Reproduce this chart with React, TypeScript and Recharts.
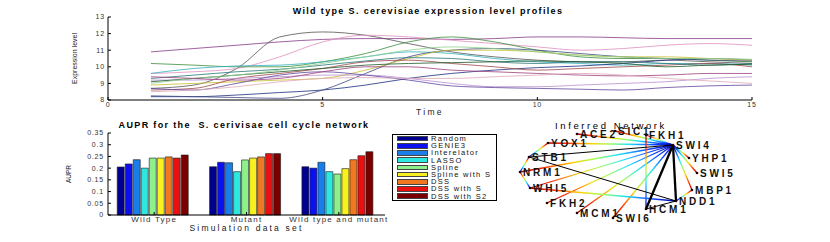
import {
  LineChart,
  Line,
  BarChart,
  Bar,
  ScatterChart,
  Scatter,
  XAxis,
  YAxis,
  Legend,
  ReferenceLine,
} from 'recharts'

const FONT = '"Liberation Sans", Arial, sans-serif'

// ---- expression profiles (time points 1..15) ----
const TIME = [1, 2, 3, 4, 5, 6, 7, 8, 9, 10, 11, 12, 13, 14, 15]
const SWI4 = [10.9, 11.1, 11.3, 11.5, 11.65, 11.7, 11.7, 11.65, 11.7, 11.8, 11.8, 11.75, 11.7, 11.7, 11.7]
const FKH1 = [8.7, 8.9, 9.9, 11.8, 12.1, 11.9, 11.4, 10.9, 10.6, 10.4, 10.3, 10.3, 10.4, 10.3, 10.2]
const NDD1 = [9.6, 9.7, 9.9, 10.6, 11.5, 11.9, 11.8, 11.6, 11.4, 11.2, 11.0, 11.1, 11.3, 11.4, 11.3]
const HCM1 = [10.2, 10.1, 10.0, 10.0, 10.3, 10.8, 11.5, 11.8, 11.5, 11.0, 10.6, 10.5, 10.5, 10.4, 10.3]
const MCM1 = [9.6, 9.9, 10.05, 10.1, 10.3, 10.6, 10.9, 10.8, 10.5, 10.3, 10.2, 10.1, 10.2, 10.2, 10.1]
const YOX1 = [8.2, 8.2, 8.3, 8.45, 8.6, 8.9, 9.3, 9.6, 9.8, 9.95, 10.05, 10.2, 10.4, 10.5, 10.4]
const SWI5 = [8.25, 8.2, 8.15, 8.1, 8.6, 9.6, 10.6, 11.0, 11.1, 11.0, 10.8, 10.6, 10.5, 10.4, 10.35]
const ACE2 = [8.9, 9.0, 9.1, 9.2, 9.3, 9.8, 10.5, 11.0, 11.0, 10.9, 10.7, 10.6, 10.6, 10.5, 10.4]
const FKH2 = [8.6, 8.7, 9.3, 9.6, 9.9, 10.3, 10.4, 10.2, 10.0, 9.8, 9.9, 10.0, 10.1, 10.2, 10.0]
const MBP1 = [9.2, 9.2, 9.3, 9.4, 9.5, 9.5, 9.3, 9.0, 8.8, 8.8, 8.9, 9.0, 9.1, 9.3, 9.4]
const SWI6 = [8.7, 8.6, 9.0, 9.5, 9.7, 9.5, 9.2, 8.85, 8.75, 8.7, 8.65, 8.6, 8.75, 8.85, 8.9]
const YHP1 = [9.3, 9.5, 9.7, 9.85, 10.1, 10.35, 10.55, 10.5, 10.3, 10.2, 10.3, 10.3, 10.2, 10.1, 10.2]
const WHI5 = [9.1, 9.3, 9.5, 9.7, 9.9, 10.1, 10.2, 10.25, 10.3, 10.35, 10.3, 10.2, 10.0, 10.1, 10.15]
const SIC1 = [9.0, 9.3, 9.5, 9.8, 10.2, 10.6, 11.0, 11.2, 11.1, 10.9, 10.7, 10.6, 10.5, 10.5, 10.45]
const NRM1 = [9.4, 9.3, 9.2, 9.3, 9.7, 10.0, 10.0, 9.8, 9.7, 9.6, 9.5, 9.45, 9.5, 9.6, 9.6]
const STB1 = [8.5, 8.6, 8.8, 9.1, 9.3, 9.35, 9.3, 9.3, 9.4, 9.5, 9.6, 9.5, 9.3, 9.15, 9.0]

const PROFILE_NAMES = ['SWI4', 'FKH1', 'NDD1', 'HCM1', 'MCM1', 'YOX1', 'SWI5', 'ACE2', 'FKH2', 'MBP1', 'SWI6', 'YHP1', 'WHI5', 'SIC1', 'NRM1', 'STB1']
const PROFILE_VALUES = [SWI4, FKH1, NDD1, HCM1, MCM1, YOX1, SWI5, ACE2, FKH2, MBP1, SWI6, YHP1, WHI5, SIC1, NRM1, STB1]
const PROFILE_COLORS = ['#8a3d8a', '#555555', '#e090c0', '#3d8f3d', '#35b0c0', '#1e2f80', '#404a80', '#c8c030', '#a04848', '#b890d0', '#6048a0', '#2a7878', '#1f5a2a', '#8fd08f', '#a04080', '#e0a8b8']
const TIME_TICKS = [0, 5, 10, 15]
const LEVEL_TICKS = [8, 9, 10, 11, 12, 13]

const profileRows = TIME.map((t, i) => {
  const row: Record<string, number> = { t }
  PROFILE_NAMES.forEach((n, k) => (row[n] = PROFILE_VALUES[k][i]))
  return row
})

// ---- AUPR bars ----
const DATA_SETS = ['Wild Type', 'Mutant', 'Wild type and mutant']
const METHODS = ['Random', 'GENIE3', 'Interelator', 'LASSO', 'Spline', 'Spline with S', 'DSS', 'DSS with S', 'DSS with S2']
const METHOD_COLORS = ['#000090', '#0a10ee', '#1a7ee8', '#2ee8e0', '#8ef08a', '#f8f020', '#f07820', '#e81010', '#7a0000']
const random = [0.205, 0.206, 0.206]
const genie3 = [0.218, 0.225, 0.2]
const interelator = [0.236, 0.223, 0.225]
const lasso = [0.2, 0.185, 0.185]
const spline = [0.243, 0.235, 0.175]
const splineS = [0.243, 0.243, 0.198]
const dss = [0.248, 0.248, 0.236]
const dssS = [0.243, 0.262, 0.253]
const dssS2 = [0.256, 0.262, 0.27]
const METHOD_VALUES = [random, genie3, interelator, lasso, spline, splineS, dss, dssS, dssS2]
const AUPR_TICKS = [0, 0.05, 0.1, 0.15, 0.2, 0.25, 0.3, 0.35]

const auprRows = DATA_SETS.map((set, i) => {
  const row: Record<string, string | number> = { set }
  METHODS.forEach((m, k) => (row[m] = METHOD_VALUES[k][i]))
  return row
})

// ---- inferred network (layout units) ----
const NODE_NAMES = ['SWI4', 'FKH1', 'SIC1', 'ACE2', 'YOX1', 'STB1', 'NRM1', 'WHI5', 'FKH2', 'MCM1', 'SWI6', 'HCM1', 'NDD1', 'MBP1', 'SWI5', 'YHP1']
const NODE_X = [173, 146, 115, 77, 48, 29, 20, 30, 47, 77, 113, 146, 176, 192, 197, 189]
const NODE_Y = [30, 20, 16, 19, 28, 42, 57, 73, 88, 98, 103, 94, 86, 75, 58, 43]
const EDGE_FROM = ['FKH1', 'SIC1', 'ACE2', 'YOX1', 'NRM1', 'WHI5', 'FKH2', 'MCM1', 'SWI6', 'YHP1', 'SWI5', 'MBP1', 'MBP1', 'FKH1', 'WHI5', 'YOX1', 'STB1', 'NRM1', 'STB1', 'STB1', 'HCM1', 'NDD1', 'HCM1']
const EDGE_TO = ['SWI4', 'SWI4', 'SWI4', 'SWI4', 'SWI4', 'SWI4', 'SWI4', 'SWI4', 'SWI4', 'SWI4', 'SWI4', 'SWI4', 'NDD1', 'HCM1', 'NDD1', 'STB1', 'NRM1', 'WHI5', 'SWI4', 'NDD1', 'SWI4', 'SWI4', 'NDD1']
const EDGE_KIND = ['c', 'c', 'c', 'c', 'c', 'c', 'c', 'c', 'c', 'c', 'c', 'c', 'c', 'c', 'c', 'c', 'c', 'c', 'k', 'k', 'K', 'K', 'k']

const nodes = NODE_NAMES.map((name, i) => ({ name, x: NODE_X[i], y: NODE_Y[i] }))
const nodeAt = (name: string) => {
  const n = nodes.find((d) => d.name === name)!
  return { x: n.x, y: n.y }
}

const tickStyle = { fontSize: 7, fill: '#333', letterSpacing: 0.8, fontFamily: FONT }

function EdgeShape(props: any) {
  const { x1, y1, x2, y2, gid, kind } = props
  if (kind !== 'c') {
    return <line x1={x1} y1={y1} x2={x2} y2={y2} stroke="#000" strokeWidth={kind === 'K' ? 2.3 : 1} />
  }
  return (
    <g>
      <defs>
        <linearGradient id={gid} gradientUnits="userSpaceOnUse" x1={x1} y1={y1} x2={x2} y2={y2}>
          <stop offset="0" stopColor="#a00000" />
          <stop offset="0.15" stopColor="#ff2a00" />
          <stop offset="0.35" stopColor="#ffd400" />
          <stop offset="0.5" stopColor="#9cff60" />
          <stop offset="0.65" stopColor="#20e0ff" />
          <stop offset="0.85" stopColor="#1040ff" />
          <stop offset="1" stopColor="#0000a0" />
        </linearGradient>
      </defs>
      <line x1={x1} y1={y1} x2={x2} y2={y2} stroke={`url(#${gid})`} strokeWidth={1.3} />
    </g>
  )
}

function NodeShape(props: any) {
  const { cx, cy, payload } = props
  return (
    <g>
      <circle cx={cx} cy={cy} r={1.3} fill="#200" />
      <text
        x={cx + 3}
        y={cy + 3.6}
        fontSize={10}
        fontWeight="bold"
        fill="#111"
        style={{ letterSpacing: 2.8, fontFamily: FONT }}
      >
        {payload.name}
      </text>
    </g>
  )
}

function AuprLegend({ payload }: any) {
  const items = [...(payload || [])].sort(
    (a: any, b: any) => METHODS.indexOf(a.value) - METHODS.indexOf(b.value)
  )
  return (
    <div
      style={{
        width: 105,
        height: 67,
        boxSizing: 'border-box',
        border: '1px solid #000',
        background: '#fff',
        padding: '0 0 0 4px',
        fontFamily: FONT,
        overflow: 'hidden',
      }}
    >
      {items.map((entry: any) => (
        <div key={entry.value} style={{ display: 'flex', alignItems: 'center', height: 7.2, whiteSpace: 'nowrap' }}>
          <span
            style={{
              flex: 'none',
              width: 31,
              height: 5.6,
              background: entry.color,
              border: '0.5px solid #444',
              boxSizing: 'border-box',
            }}
          />
          <span style={{ marginLeft: 3, fontSize: 7.5, lineHeight: '7px', letterSpacing: 1.3, color: '#111', whiteSpace: 'nowrap' }}>
            {entry.value}
          </span>
        </div>
      ))}
    </div>
  )
}

const titleStyle = {
  position: 'absolute' as const,
  width: 400,
  textAlign: 'center' as const,
  fontSize: 9,
  fontWeight: 'bold' as const,
  letterSpacing: 1.35,
  lineHeight: '10px',
  color: '#000',
  whiteSpace: 'nowrap' as const,
}

export default function App() {
  return (
    <div
      style={{
        position: 'absolute',
        left: 0,
        top: 0,
        width: 830,
        height: 242,
        background: '#fff',
        overflow: 'hidden',
        fontFamily: FONT,
      }}
    >
      <div style={{ ...titleStyle, left: 228, top: 6 }}>Wild type S. cerevisiae expression level profiles</div>
      <div style={{ ...titleStyle, left: 44, top: 120 }}>AUPR for the&nbsp; S. cerivisae cell cycle network</div>
      <div style={{ ...titleStyle, left: 411, top: 121, fontWeight: 'normal', fontSize: 9.5, letterSpacing: 2.6 }}>
        Inferred Network
      </div>

      <div style={{ position: 'absolute', left: 0, top: 0 }}>
        <LineChart width={830} height={120} data={profileRows} margin={{ top: 17, right: 78, bottom: 0, left: 78 }}>
          <XAxis
            dataKey="t"
            type="number"
            domain={[0, 15]}
            ticks={TIME_TICKS}
            interval={0}
            height={20}
            stroke="#000"
            tickSize={-3}
            tickMargin={5.5}
            tick={tickStyle}
            label={{ value: 'Time', position: 'insideBottom', offset: 5, fontSize: 8.5, fill: '#222', style: { letterSpacing: 2.3, fill: '#222' } }}
          />
          <XAxis xAxisId="top" orientation="top" dataKey="t" type="number" domain={[0, 15]} ticks={TIME_TICKS} interval={0} height={0} stroke="#000" tickSize={-3} tick={false} />
          <YAxis
            domain={[8, 13]}
            ticks={LEVEL_TICKS}
            interval={0}
            width={30}
            stroke="#000"
            tickSize={-3}
            tickMargin={6}
            tick={tickStyle}
            label={{ value: 'Expression level', angle: -90, position: 'left', offset: 3, fontSize: 7, fill: '#222', style: { textAnchor: 'middle', fill: '#222' } }}
          />
          <YAxis yAxisId="right" orientation="right" domain={[8, 13]} ticks={LEVEL_TICKS} interval={0} width={0} stroke="#000" tickSize={-3} tick={false} />
          {PROFILE_NAMES.map((n, k) => (
            <Line
              key={n}
              dataKey={n}
              type="monotone"
              stroke={PROFILE_COLORS[k]}
              strokeWidth={0.9}
              strokeOpacity={0.9}
              dot={false}
              isAnimationActive={false}
            />
          ))}
        </LineChart>
      </div>

      <div style={{ position: 'absolute', left: 0, top: 115 }}>
        <BarChart
          width={500}
          height={127}
          data={auprRows}
          margin={{ top: 18, right: 115, bottom: 5, left: 78 }}
          barCategoryGap="10%"
          barGap={1}
        >
          <XAxis
            dataKey="set"
            height={22}
            stroke="#000"
            tickSize={-3}
            tickMargin={4}
            interval={0}
            tick={{ fontSize: 8, fill: '#333', letterSpacing: 1.2, fontFamily: FONT }}
            label={{ value: 'Simulation data set', position: 'insideBottom', offset: 6, fontSize: 8.5, fill: '#222', style: { letterSpacing: 2.2, fill: '#222' } }}
          />
          <XAxis xAxisId="top" orientation="top" dataKey="set" height={0} stroke="#000" tickSize={-3} tick={false} />
          <YAxis
            domain={[0, 0.35]}
            ticks={AUPR_TICKS}
            interval={0}
            width={30}
            stroke="#000"
            tickSize={-3}
            tickMargin={7}
            tick={tickStyle}
            label={{ value: 'AUPR', angle: -90, position: 'left', offset: 9, fontSize: 6.5, fill: '#222', style: { textAnchor: 'middle', fill: '#222' } }}
          />
          <YAxis yAxisId="right" orientation="right" domain={[0, 0.35]} ticks={AUPR_TICKS} interval={0} width={0} stroke="#000" tickSize={-3} tick={false} />
          <Legend
            layout="vertical"
            align="center"
            verticalAlign="middle"
            wrapperStyle={{ left: 392, top: 19, width: 105, height: 67 }}
            content={AuprLegend}
          />
          {METHODS.map((m, k) => (
            <Bar key={m} dataKey={m} name={m} fill={METHOD_COLORS[k]} stroke="#1a1a1a" strokeWidth={0.6} isAnimationActive={false} />
          ))}
        </BarChart>
      </div>

      <div style={{ position: 'absolute', left: 500, top: 115 }}>
        <ScatterChart width={240} height={127} margin={{ top: 0, right: 0, bottom: 0, left: 0 }}>
          <XAxis type="number" dataKey="x" domain={[0, 240]} hide />
          <YAxis type="number" dataKey="y" domain={[0, 127]} reversed hide />
          {EDGE_FROM.map((from, i) => (
            <ReferenceLine
              key={`${from}-${EDGE_TO[i]}`}
              segment={[nodeAt(from), nodeAt(EDGE_TO[i])]}
              ifOverflow="visible"
              shape={(p: any) => <EdgeShape {...p} gid={`edge-grad-${i}`} kind={EDGE_KIND[i]} />}
            />
          ))}
          <Scatter data={nodes} isAnimationActive={false} shape={NodeShape} />
        </ScatterChart>
      </div>
    </div>
  )
}
